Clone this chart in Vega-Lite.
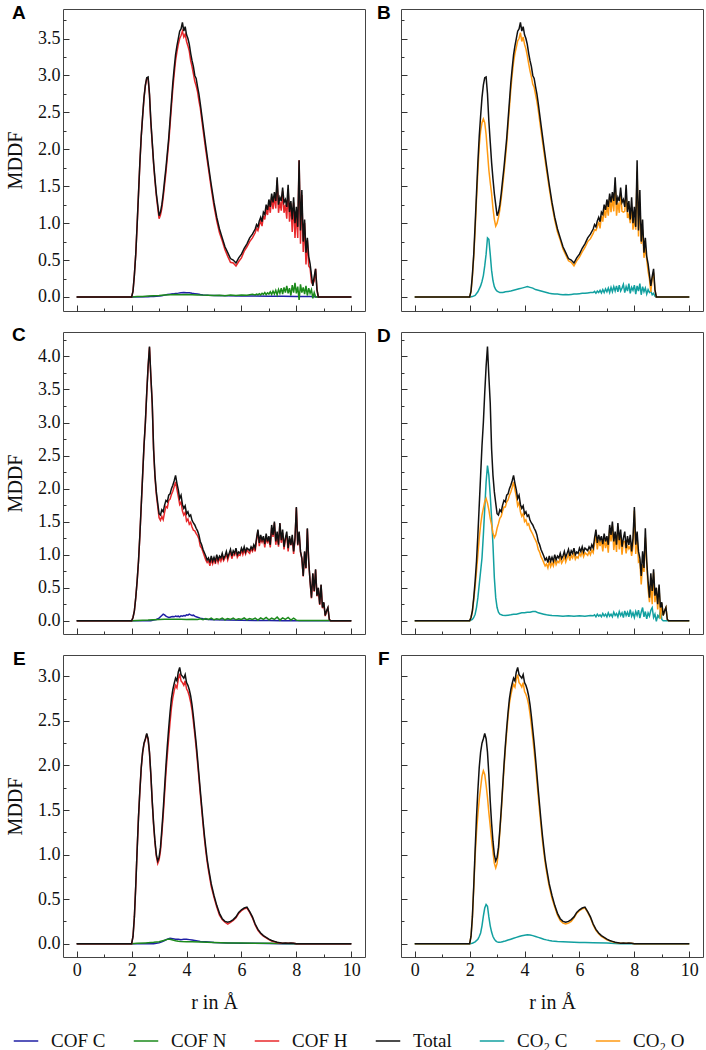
{
  "$schema": "https://vega.github.io/schema/vega-lite/v6.json",
  "padding": {"left": 5, "top": 3, "right": 0, "bottom": 0},
  "bounds": "flush",
  "columns": 2,
  "spacing": {"row": 21, "column": 36},
  "resolve": {"scale": {"color": "shared"}},
  "config": {
    "view": {"stroke": "#444", "strokeWidth": 1},
    "font": "Liberation Serif",
    "axis": {"domain": false, "grid": false, "tickColor": "#333", "tickWidth": 1, "labelFont": "Liberation Serif", "labelFontSize": 18, "labelColor": "#111", "titleFont": "Liberation Serif", "titleFontSize": 20, "titleFontWeight": "normal", "titleColor": "#111", "labelFlush": false, "labelOverlap": false},
    "title": {"font": "Liberation Sans", "fontSize": 19, "fontWeight": "bold", "anchor": "start", "frame": "group", "offset": -14, "baseline": "alphabetic", "color": "#000"},
    "legend": {"orient": "none", "legendX": -50, "legendY": 1019, "direction": "horizontal", "gridAlign": "none", "symbolType": "stroke", "symbolStrokeWidth": 2, "symbolSize": 600, "labelFont": "Liberation Serif", "labelFontSize": 19, "labelColor": "#111", "columnPadding": 24, "labelOffset": 12, "padding": 0},
    "line": {"strokeWidth": 1.5}
  },
  "datasets": {
    "s1": [
      {"r":0,"T":0,"H":0,"C":0,"N":0,"K":0,"O":0},
      {"r":2.0,"T":0,"H":0,"C":0,"N":0,"K":0,"O":0},
      {"r":2.05,"T":0.08,"H":0.08,"O":0.07},
      {"r":2.1,"T":0.3,"H":0.3,"K":0.005,"O":0.27},
      {"r":2.15,"T":0.58,"H":0.58,"O":0.55},
      {"r":2.2,"T":0.98,"H":0.97,"N":0.005,"K":0.02,"O":0.9},
      {"r":2.25,"T":1.4,"H":1.39,"O":1.32},
      {"r":2.3,"T":1.82,"H":1.81,"K":0.07,"O":1.7},
      {"r":2.35,"T":2.18,"H":2.17,"O":2.05},
      {"r":2.4,"T":2.45,"H":2.44,"N":0.008,"K":0.15,"O":2.25},
      {"r":2.45,"T":2.7,"H":2.69,"K":0.21,"O":2.36},
      {"r":2.5,"T":2.87,"H":2.86,"K":0.29,"O":2.41},
      {"r":2.55,"T":2.97,"H":2.96,"K":0.42,"O":2.36},
      {"r":2.6,"T":2.98,"H":2.96,"C":0.003,"N":0.012,"K":0.58,"O":2.2},
      {"r":2.65,"T":2.75,"H":2.73,"K":0.8,"O":1.96},
      {"r":2.7,"T":2.38,"H":2.36,"C":0.005,"K":0.78,"O":1.72},
      {"r":2.75,"T":2.1,"H":2.08,"K":0.58,"O":1.55},
      {"r":2.8,"T":1.82,"H":1.8,"C":0.007,"N":0.016,"K":0.36,"O":1.4},
      {"r":2.85,"T":1.6,"H":1.57,"K":0.22,"O":1.2},
      {"r":2.9,"T":1.4,"H":1.37,"C":0.01,"K":0.14,"O":1.05},
      {"r":2.95,"T":1.25,"H":1.21,"K":0.1,"O":0.96},
      {"r":3.0,"T":1.1,"H":1.06,"C":0.012,"N":0.02,"K":0.08,"O":1.0},
      {"r":3.05,"T":1.15,"H":1.11,"K":0.07,"O":1.08},
      {"r":3.1,"T":1.25,"H":1.2,"C":0.018,"K":0.06,"O":1.18},
      {"r":3.15,"T":1.4,"H":1.35,"K":0.06,"O":1.33},
      {"r":3.2,"T":1.58,"H":1.52,"C":0.025,"N":0.026,"K":0.06,"O":1.5},
      {"r":3.25,"T":1.75,"H":1.69,"K":0.065,"O":1.68},
      {"r":3.3,"T":1.95,"H":1.89,"C":0.032,"K":0.07,"O":1.87},
      {"r":3.35,"T":2.15,"H":2.09,"O":2.07},
      {"r":3.4,"T":2.4,"H":2.33,"C":0.038,"N":0.03,"K":0.075,"O":2.32},
      {"r":3.45,"T":2.65,"H":2.58,"O":2.57},
      {"r":3.5,"T":2.9,"H":2.82,"C":0.042,"K":0.08,"O":2.81},
      {"r":3.55,"T":3.1,"H":3.02,"O":3.01},
      {"r":3.6,"T":3.28,"H":3.2,"C":0.048,"N":0.032,"K":0.09,"O":3.18},
      {"r":3.65,"T":3.4,"H":3.32,"O":3.3},
      {"r":3.7,"T":3.5,"H":3.42,"C":0.052,"K":0.1,"O":3.38},
      {"r":3.75,"T":3.6,"H":3.5,"O":3.47},
      {"r":3.8,"T":3.63,"H":3.54,"C":0.058,"N":0.03,"K":0.11,"O":3.5},
      {"r":3.85,"T":3.72,"H":3.6,"O":3.58},
      {"r":3.9,"T":3.6,"H":3.52,"C":0.06,"K":0.12,"O":3.46},
      {"r":3.95,"T":3.66,"H":3.56,"O":3.52},
      {"r":4.0,"T":3.55,"H":3.46,"C":0.056,"N":0.033,"K":0.13,"O":3.42},
      {"r":4.05,"T":3.5,"H":3.4,"O":3.36},
      {"r":4.1,"T":3.42,"H":3.33,"C":0.058,"K":0.14,"O":3.27},
      {"r":4.15,"T":3.3,"H":3.2,"O":3.16},
      {"r":4.2,"T":3.2,"H":3.12,"C":0.05,"N":0.03,"K":0.13,"O":3.06},
      {"r":4.25,"T":3.12,"H":3.02,"O":2.98},
      {"r":4.3,"T":3.0,"H":2.92,"C":0.045,"K":0.12,"O":2.88},
      {"r":4.35,"T":2.96,"H":2.86,"O":2.84},
      {"r":4.4,"T":2.85,"H":2.78,"C":0.04,"N":0.028,"K":0.1,"O":2.74},
      {"r":4.45,"T":2.75,"H":2.66,"O":2.65},
      {"r":4.5,"T":2.62,"H":2.56,"C":0.032,"K":0.09,"O":2.53},
      {"r":4.6,"T":2.33,"H":2.27,"C":0.028,"N":0.025,"K":0.08,"O":2.25},
      {"r":4.7,"T":2.05,"H":1.99,"C":0.025,"K":0.07,"O":1.98},
      {"r":4.8,"T":1.78,"H":1.73,"C":0.022,"N":0.022,"K":0.06,"O":1.72},
      {"r":4.9,"T":1.52,"H":1.47,"K":0.05,"O":1.47},
      {"r":5.0,"T":1.28,"H":1.23,"C":0.02,"N":0.02,"K":0.045,"O":1.24},
      {"r":5.1,"T":1.08,"H":1.03,"K":0.04,"O":1.04},
      {"r":5.2,"T":0.92,"H":0.87,"N":0.022,"K":0.04,"O":0.88},
      {"r":5.3,"T":0.8,"H":0.76,"K":0.035,"O":0.77},
      {"r":5.4,"T":0.68,"H":0.64,"N":0.018,"K":0.03,"O":0.65},
      {"r":5.5,"T":0.6,"H":0.55,"C":0.015,"K":0.035,"O":0.57},
      {"r":5.6,"T":0.52,"H":0.47,"N":0.025,"K":0.03,"O":0.49},
      {"r":5.7,"T":0.5,"H":0.46,"K":0.035,"O":0.47},
      {"r":5.8,"T":0.46,"H":0.42,"N":0.02,"K":0.04,"O":0.42},
      {"r":5.9,"T":0.53,"H":0.48,"K":0.04,"O":0.49},
      {"r":6.0,"T":0.58,"H":0.53,"C":0.013,"N":0.028,"K":0.045,"O":0.54},
      {"r":6.1,"T":0.66,"H":0.62,"K":0.05,"O":0.61},
      {"r":6.2,"T":0.72,"H":0.68,"N":0.022,"K":0.05,"O":0.67},
      {"r":6.3,"T":0.8,"H":0.75,"K":0.055,"O":0.75},
      {"r":6.4,"T":0.85,"H":0.8,"N":0.035,"K":0.06,"O":0.79},
      {"r":6.5,"T":0.92,"H":0.87,"C":0.012,"N":0.028,"K":0.06,"O":0.86},
      {"r":6.55,"T":0.98,"H":0.93,"N":0.04,"K":0.075,"O":0.91},
      {"r":6.6,"T":0.95,"H":0.9,"N":0.03,"K":0.05,"O":0.9},
      {"r":6.65,"T":1.03,"H":0.97,"N":0.045,"K":0.08,"O":0.95},
      {"r":6.7,"T":1.08,"H":1.03,"N":0.028,"K":0.06,"O":1.02},
      {"r":6.75,"T":1.02,"H":0.96,"N":0.05,"K":0.09,"O":0.93},
      {"r":6.8,"T":1.15,"H":1.1,"N":0.035,"K":0.055,"O":1.1},
      {"r":6.85,"T":1.12,"H":1.05,"N":0.06,"K":0.1,"O":1.02},
      {"r":6.9,"T":1.25,"H":1.2,"N":0.03,"K":0.06,"O":1.19},
      {"r":6.95,"T":1.18,"H":1.11,"N":0.055,"K":0.11,"O":1.07},
      {"r":7.0,"T":1.32,"H":1.26,"C":0.01,"N":0.04,"K":0.07,"O":1.25},
      {"r":7.05,"T":1.22,"H":1.14,"N":0.07,"K":0.12,"O":1.1},
      {"r":7.1,"T":1.4,"H":1.35,"N":0.035,"K":0.06,"O":1.34},
      {"r":7.15,"T":1.28,"H":1.19,"N":0.08,"K":0.13,"O":1.15},
      {"r":7.2,"T":1.42,"H":1.37,"N":0.04,"K":0.07,"O":1.35},
      {"r":7.25,"T":1.3,"H":1.2,"N":0.09,"K":0.14,"O":1.16},
      {"r":7.3,"T":1.62,"H":1.58,"N":0.03,"K":0.08,"O":1.54},
      {"r":7.35,"T":1.25,"H":1.14,"N":0.1,"K":0.15,"O":1.1},
      {"r":7.4,"T":1.35,"H":1.29,"N":0.05,"K":0.07,"O":1.28},
      {"r":7.45,"T":1.3,"H":1.17,"N":0.12,"K":0.16,"O":1.14},
      {"r":7.5,"T":1.48,"H":1.43,"C":0.01,"N":0.04,"K":0.08,"O":1.4},
      {"r":7.55,"T":1.28,"H":1.14,"N":0.13,"K":0.12,"O":1.16},
      {"r":7.6,"T":1.32,"H":1.25,"N":0.06,"K":0.17,"O":1.15},
      {"r":7.65,"T":1.22,"H":1.06,"N":0.15,"K":0.06,"O":1.16},
      {"r":7.7,"T":1.52,"H":1.46,"N":0.05,"K":0.14,"O":1.38},
      {"r":7.75,"T":1.15,"H":1.02,"N":0.12,"K":0.08,"O":1.07},
      {"r":7.8,"T":1.3,"H":1.27,"N":0.02,"K":0.18,"O":1.12},
      {"r":7.85,"T":1.05,"H":0.88,"N":0.16,"K":0.05,"O":1.0},
      {"r":7.9,"T":1.35,"H":1.28,"N":0.06,"K":0.13,"O":1.22},
      {"r":7.95,"T":1.0,"H":0.8,"N":0.19,"K":0.09,"O":0.91},
      {"r":8.0,"T":1.22,"H":1.16,"C":0.008,"N":0.05,"K":0.16,"O":1.06},
      {"r":8.05,"T":0.95,"H":0.8,"N":0.14,"K":0.04,"O":0.91},
      {"r":8.1,"T":1.85,"H":1.85,"N":-0.04,"K":0.15,"O":1.7},
      {"r":8.15,"T":0.9,"H":0.72,"N":0.17,"K":0.08,"O":0.82},
      {"r":8.2,"T":1.45,"H":1.38,"N":0.06,"K":0.18,"O":1.27},
      {"r":8.25,"T":0.75,"H":0.61,"N":0.13,"K":0.03,"O":0.72},
      {"r":8.3,"T":1.05,"H":1.0,"N":0.04,"K":0.14,"O":0.91},
      {"r":8.35,"T":0.6,"H":0.44,"N":0.15,"K":0.07,"O":0.53},
      {"r":8.4,"T":0.8,"H":0.77,"N":0.02,"K":0.12,"O":0.68},
      {"r":8.45,"T":0.55,"H":0.42,"N":0.12,"K":0.04,"O":0.51},
      {"r":8.5,"T":0.45,"H":0.39,"C":0.006,"N":0.05,"K":0.1,"O":0.35},
      {"r":8.55,"T":0.3,"H":0.2,"N":0.1,"K":0.06,"O":0.24},
      {"r":8.6,"T":0.15,"H":0.17,"N":-0.02,"K":0.08,"O":0.07},
      {"r":8.65,"T":0.28,"H":0.22,"N":0.06,"K":0.03,"O":0.25},
      {"r":8.7,"T":0.38,"H":0.38,"N":0,"K":0.05,"O":0.33},
      {"r":8.75,"T":0.1,"H":0.1,"K":0.01,"O":0.09},
      {"r":8.8,"T":0,"H":0,"C":0,"K":0,"O":0},
      {"r":10,"T":0,"H":0,"C":0,"N":0,"K":0,"O":0}
    ],
    "s2": [
      {"r":0,"T":0,"H":0,"C":0,"N":0,"K":0,"O":0},
      {"r":2.0,"T":0,"H":0,"C":0,"N":0,"K":0,"O":0},
      {"r":2.05,"T":0.05,"H":0.05,"O":0.05},
      {"r":2.1,"T":0.15,"H":0.15,"O":0.14,"K":0.02},
      {"r":2.15,"T":0.35,"H":0.35,"O":0.32,"K":0.05},
      {"r":2.2,"T":0.6,"H":0.6,"O":0.52,"K":0.1,"N":0.004},
      {"r":2.25,"T":0.9,"H":0.9,"O":0.75,"K":0.2},
      {"r":2.3,"T":1.3,"H":1.29,"O":1.0,"K":0.35},
      {"r":2.35,"T":1.75,"H":1.74,"O":1.25,"K":0.55},
      {"r":2.4,"T":2.2,"H":2.19,"O":1.45,"K":0.75,"N":0.007},
      {"r":2.45,"T":2.65,"H":2.64,"O":1.6,"K":0.95},
      {"r":2.5,"T":3.0,"H":2.99,"O":1.7,"K":1.3},
      {"r":2.55,"T":3.45,"H":3.44,"O":1.8,"K":1.7},
      {"r":2.6,"T":3.85,"H":3.84,"O":1.85,"K":2.1,"N":0.01},
      {"r":2.65,"T":4.15,"H":4.14,"O":1.78,"K":2.35},
      {"r":2.7,"T":3.7,"H":3.69,"O":1.68,"K":2.2,"C":0},
      {"r":2.75,"T":3.3,"H":3.28,"O":1.55,"K":1.9},
      {"r":2.8,"T":2.6,"H":2.58,"O":1.45,"K":1.55,"C":0.01,"N":0.015},
      {"r":2.85,"T":2.2,"H":2.17,"O":1.33,"K":1.15},
      {"r":2.9,"T":1.95,"H":1.91,"O":1.26,"K":0.65,"C":0.02},
      {"r":2.95,"T":1.78,"H":1.73,"O":1.3,"K":0.35},
      {"r":3.0,"T":1.62,"H":1.56,"O":1.4,"K":0.2,"C":0.04,"N":0.02},
      {"r":3.05,"T":1.6,"H":1.52,"O":1.47,"K":0.13,"C":0.06},
      {"r":3.1,"T":1.68,"H":1.58,"O":1.55,"K":0.1,"C":0.08},
      {"r":3.15,"T":1.65,"H":1.53,"O":1.58,"C":0.1},
      {"r":3.2,"T":1.75,"H":1.64,"O":1.66,"K":0.085,"C":0.09,"N":0.022},
      {"r":3.25,"T":1.82,"H":1.73,"O":1.72,"C":0.07},
      {"r":3.3,"T":1.8,"H":1.71,"O":1.72,"K":0.08,"C":0.06},
      {"r":3.35,"T":1.9,"H":1.82,"O":1.8,"C":0.05},
      {"r":3.4,"T":1.92,"H":1.84,"O":1.83,"K":0.085,"C":0.055,"N":0.025},
      {"r":3.45,"T":2.0,"H":1.91,"O":1.9,"C":0.06},
      {"r":3.5,"T":2.05,"H":1.96,"O":1.95,"K":0.09,"C":0.065},
      {"r":3.55,"T":2.12,"H":2.03,"O":2.02,"C":0.06},
      {"r":3.6,"T":2.2,"H":2.1,"O":2.1,"K":0.1,"C":0.07,"N":0.022},
      {"r":3.65,"T":2.08,"H":1.99,"O":1.98,"C":0.065},
      {"r":3.7,"T":1.98,"H":1.88,"O":1.88,"K":0.1,"C":0.07},
      {"r":3.75,"T":1.85,"H":1.76,"O":1.74,"C":0.06},
      {"r":3.8,"T":1.9,"H":1.8,"O":1.79,"K":0.11,"C":0.075,"N":0.025},
      {"r":3.85,"T":1.76,"H":1.66,"O":1.65,"C":0.07},
      {"r":3.9,"T":1.7,"H":1.6,"O":1.58,"K":0.12,"C":0.08},
      {"r":3.95,"T":1.74,"H":1.64,"O":1.62,"C":0.075},
      {"r":4.0,"T":1.62,"H":1.51,"O":1.5,"K":0.12,"C":0.09,"N":0.02},
      {"r":4.05,"T":1.65,"H":1.54,"O":1.53,"C":0.085},
      {"r":4.1,"T":1.58,"H":1.46,"O":1.45,"K":0.13,"C":0.1},
      {"r":4.15,"T":1.6,"H":1.49,"O":1.47,"C":0.09},
      {"r":4.2,"T":1.52,"H":1.42,"O":1.39,"K":0.13,"C":0.08,"N":0.025},
      {"r":4.25,"T":1.48,"H":1.37,"O":1.35,"C":0.085},
      {"r":4.3,"T":1.45,"H":1.36,"O":1.31,"K":0.14,"C":0.07},
      {"r":4.35,"T":1.4,"H":1.32,"O":1.26,"C":0.06},
      {"r":4.4,"T":1.36,"H":1.29,"O":1.22,"K":0.14,"C":0.055,"N":0.018},
      {"r":4.45,"T":1.3,"H":1.24,"O":1.17},
      {"r":4.5,"T":1.2,"H":1.13,"O":1.08,"K":0.12,"C":0.04,"N":0.03},
      {"r":4.55,"T":1.15,"H":1.1,"O":1.04},
      {"r":4.6,"T":1.08,"H":1.04,"O":0.97,"K":0.11,"C":0.03,"N":0.015},
      {"r":4.65,"T":1.03,"H":0.98,"O":0.93},
      {"r":4.7,"T":0.98,"H":0.92,"O":0.88,"K":0.1,"C":0.025,"N":0.035},
      {"r":4.75,"T":0.92,"H":0.88,"O":0.83},
      {"r":4.8,"T":0.95,"H":0.91,"O":0.86,"K":0.09,"C":0.02,"N":0.02},
      {"r":4.85,"T":0.88,"H":0.83,"O":0.8},
      {"r":4.9,"T":0.98,"H":0.93,"O":0.9,"K":0.085,"N":0.04},
      {"r":4.95,"T":0.9,"H":0.86,"O":0.82},
      {"r":5.0,"T":0.96,"H":0.93,"O":0.88,"K":0.08,"C":0.015,"N":0.015},
      {"r":5.05,"T":0.9,"H":0.86,"O":0.83},
      {"r":5.1,"T":1.0,"H":0.96,"O":0.93,"N":0.03},
      {"r":5.15,"T":0.92,"H":0.88,"O":0.85},
      {"r":5.2,"T":0.98,"H":0.95,"O":0.9,"K":0.075,"N":0.02},
      {"r":5.25,"T":0.95,"H":0.9,"O":0.88},
      {"r":5.3,"T":1.02,"H":0.97,"O":0.95,"N":0.04},
      {"r":5.35,"T":0.94,"H":0.91,"O":0.87},
      {"r":5.4,"T":0.98,"H":0.95,"O":0.91,"K":0.07,"N":0.015},
      {"r":5.45,"T":1.05,"H":1.01,"O":0.98},
      {"r":5.5,"T":0.96,"H":0.92,"O":0.89,"C":0.01,"N":0.035},
      {"r":5.55,"T":1.02,"H":0.99,"O":0.95},
      {"r":5.6,"T":1.08,"H":1.05,"O":1.0,"K":0.075,"N":0.02},
      {"r":5.65,"T":0.98,"H":0.94,"O":0.91},
      {"r":5.7,"T":1.06,"H":1.01,"O":0.99,"N":0.04},
      {"r":5.75,"T":1.02,"H":0.99,"O":0.95},
      {"r":5.8,"T":1.1,"H":1.07,"O":1.03,"K":0.07,"N":0.015},
      {"r":5.85,"T":1.0,"H":0.96,"O":0.93},
      {"r":5.9,"T":1.04,"H":1.0,"O":0.97,"N":0.03},
      {"r":5.95,"T":1.02,"H":0.99,"O":0.95},
      {"r":6.0,"T":1.1,"H":1.07,"O":1.02,"K":0.075,"C":0.008,"N":0.02},
      {"r":6.05,"T":1.05,"H":1.0,"O":0.98},
      {"r":6.1,"T":1.12,"H":1.07,"O":1.05,"N":0.045},
      {"r":6.15,"T":1.04,"H":1.01,"O":0.97},
      {"r":6.2,"T":1.1,"H":1.08,"O":1.03,"K":0.07,"N":0.015},
      {"r":6.25,"T":1.08,"H":1.04,"O":1.01},
      {"r":6.3,"T":1.06,"H":1.02,"O":0.99,"N":0.035},
      {"r":6.35,"T":1.12,"H":1.09,"O":1.05},
      {"r":6.4,"T":1.08,"H":1.05,"O":1.0,"K":0.08,"N":0.02},
      {"r":6.45,"T":1.15,"H":1.11,"O":1.07},
      {"r":6.5,"T":1.1,"H":1.05,"O":1.03,"K":0.075,"C":0.006,"N":0.04},
      {"r":6.55,"T":1.25,"H":1.22,"O":1.16,"K":0.09},
      {"r":6.6,"T":1.38,"H":1.36,"O":1.32,"K":0.06,"N":0.01},
      {"r":6.65,"T":1.18,"H":1.13,"O":1.08,"K":0.1},
      {"r":6.7,"T":1.3,"H":1.25,"O":1.23,"K":0.07,"N":0.045},
      {"r":6.75,"T":1.22,"H":1.19,"O":1.13,"K":0.09},
      {"r":6.8,"T":1.28,"H":1.25,"O":1.22,"K":0.06,"N":0.02},
      {"r":6.85,"T":1.16,"H":1.11,"O":1.05,"K":0.11},
      {"r":6.9,"T":1.32,"H":1.27,"O":1.25,"K":0.07,"N":0.05},
      {"r":6.95,"T":1.2,"H":1.17,"O":1.1,"K":0.1},
      {"r":7.0,"T":1.28,"H":1.26,"O":1.22,"K":0.06,"C":0.004,"N":0.015},
      {"r":7.05,"T":1.15,"H":1.11,"O":1.03,"K":0.12},
      {"r":7.1,"T":1.45,"H":1.41,"O":1.38,"K":0.07,"N":0.04},
      {"r":7.15,"T":1.3,"H":1.27,"O":1.2,"K":0.1},
      {"r":7.2,"T":1.5,"H":1.48,"O":1.44,"K":0.06,"N":0.02},
      {"r":7.25,"T":1.2,"H":1.15,"O":1.07,"K":0.13},
      {"r":7.3,"T":1.35,"H":1.29,"O":1.27,"K":0.08,"N":0.055},
      {"r":7.35,"T":1.15,"H":1.12,"O":1.04,"K":0.11},
      {"r":7.4,"T":1.48,"H":1.47,"O":1.42,"K":0.06,"N":0.01},
      {"r":7.45,"T":1.22,"H":1.18,"O":1.08,"K":0.14},
      {"r":7.5,"T":1.38,"H":1.33,"O":1.3,"K":0.08,"C":0.002,"N":0.045},
      {"r":7.55,"T":1.12,"H":1.08,"O":1.0,"K":0.12},
      {"r":7.6,"T":1.25,"H":1.23,"O":1.2,"K":0.05,"N":0.02},
      {"r":7.65,"T":1.35,"H":1.3,"O":1.2,"K":0.15},
      {"r":7.7,"T":1.1,"H":1.05,"O":1.02,"K":0.08,"N":0.05},
      {"r":7.75,"T":1.28,"H":1.25,"O":1.15,"K":0.13},
      {"r":7.8,"T":1.15,"H":1.14,"O":1.09,"K":0.06,"N":0.01},
      {"r":7.85,"T":1.3,"H":1.26,"O":1.13,"K":0.17},
      {"r":7.9,"T":1.05,"H":1.01,"O":0.98,"K":0.07,"N":0.04},
      {"r":7.95,"T":1.25,"H":1.22,"O":1.13,"K":0.12},
      {"r":8.0,"T":1.72,"H":1.71,"O":1.67,"K":0.05,"C":0,"N":0.01},
      {"r":8.05,"T":1.15,"H":1.14,"O":1.01,"K":0.14},
      {"r":8.1,"T":1.35,"H":1.34,"O":1.27,"K":0.08,"N":0.005},
      {"r":8.15,"T":1.05,"H":1.04,"O":0.89,"K":0.16},
      {"r":8.2,"T":0.95,"H":0.94,"O":0.91,"K":0.04},
      {"r":8.25,"T":0.68,"H":0.67,"O":0.55,"K":0.13},
      {"r":8.3,"T":1.05,"H":1.04,"O":0.85,"K":0.2},
      {"r":8.35,"T":0.8,"H":0.79,"O":0.74,"K":0.06},
      {"r":8.4,"T":1.4,"H":1.39,"O":1.26,"K":0.14},
      {"r":8.45,"T":0.9,"H":0.89,"O":0.87,"K":0.03},
      {"r":8.5,"T":0.6,"H":0.59,"O":0.48,"K":0.12},
      {"r":8.55,"T":0.35,"H":0.34,"O":0.28,"K":0.07},
      {"r":8.6,"T":0.72,"H":0.71,"O":0.56,"K":0.16},
      {"r":8.65,"T":0.45,"H":0.44,"O":0.25,"K":0.2},
      {"r":8.7,"T":0.78,"H":0.77,"O":0.73,"K":0.05},
      {"r":8.75,"T":0.38,"H":0.37,"O":0.28,"K":0.1},
      {"r":8.8,"T":0.5,"H":0.49,"O":0.5,"K":-0.01},
      {"r":8.85,"T":0.25,"H":0.24,"O":0.17,"K":0.08},
      {"r":8.9,"T":0.55,"H":0.54,"O":0.5,"K":0.05},
      {"r":8.95,"T":0.2,"H":0.19,"O":0.03,"K":0.17},
      {"r":9.0,"T":0.28,"H":0.27,"O":0.26,"K":0.02},
      {"r":9.05,"T":0.08,"H":0.07,"O":0.08,"K":0},
      {"r":9.1,"T":0.15,"H":0.14,"O":0.15},
      {"r":9.15,"T":0.2,"H":0.19,"O":0.2},
      {"r":9.2,"T":0.02,"H":0.02,"O":0.02,"N":0.003},
      {"r":9.25,"T":0,"H":0,"O":0,"N":0},
      {"r":10,"T":0,"H":0,"C":0,"N":0,"K":0,"O":0}
    ],
    "s3": [
      {"r":0,"T":0,"H":0,"C":0,"N":0,"K":0,"O":0},
      {"r":2.0,"T":0,"H":0,"C":0,"N":0,"K":0,"O":0},
      {"r":2.05,"T":0.08,"H":0.08,"O":0.08},
      {"r":2.1,"T":0.3,"H":0.3,"K":0.005,"O":0.29},
      {"r":2.15,"T":0.65,"H":0.65,"O":0.63},
      {"r":2.2,"T":1.05,"H":1.05,"N":0.003,"K":0.02,"O":0.98},
      {"r":2.25,"T":1.42,"H":1.42,"O":1.25},
      {"r":2.3,"T":1.72,"H":1.71,"K":0.05,"O":1.45},
      {"r":2.35,"T":1.98,"H":1.97,"K":0.08,"O":1.62},
      {"r":2.4,"T":2.15,"H":2.14,"K":0.12,"O":1.75},
      {"r":2.45,"T":2.25,"H":2.24,"K":0.2,"O":1.88},
      {"r":2.5,"T":2.3,"H":2.29,"N":0.008,"K":0.31,"O":1.94},
      {"r":2.55,"T":2.36,"H":2.35,"K":0.4,"O":1.9},
      {"r":2.6,"T":2.3,"H":2.29,"K":0.44,"O":1.78},
      {"r":2.65,"T":2.15,"H":2.14,"K":0.42,"O":1.64},
      {"r":2.7,"T":1.9,"H":1.89,"K":0.3,"O":1.47},
      {"r":2.75,"T":1.6,"H":1.59,"K":0.2,"O":1.32},
      {"r":2.8,"T":1.35,"H":1.33,"C":0,"N":0.015,"K":0.13,"O":1.17},
      {"r":2.85,"T":1.15,"H":1.13,"K":0.08,"O":1.03},
      {"r":2.9,"T":1.0,"H":0.98,"C":0.005,"K":0.05,"O":0.9},
      {"r":2.95,"T":0.93,"H":0.9,"K":0.03,"O":0.85},
      {"r":3.0,"T":0.97,"H":0.94,"C":0.01,"N":0.022,"K":0.02,"O":0.9},
      {"r":3.05,"T":1.08,"H":1.04,"K":0.016,"O":1.04},
      {"r":3.1,"T":1.28,"H":1.23,"C":0.02,"N":0.03,"K":0.015,"O":1.25},
      {"r":3.15,"T":1.5,"H":1.44,"K":0.018,"O":1.47},
      {"r":3.2,"T":1.75,"H":1.68,"C":0.035,"N":0.038,"K":0.022,"O":1.72},
      {"r":3.25,"T":2.0,"H":1.92,"K":0.026,"O":1.96},
      {"r":3.3,"T":2.22,"H":2.12,"C":0.05,"N":0.048,"K":0.03,"O":2.18},
      {"r":3.35,"T":2.42,"H":2.31,"N":0.052,"O":2.37},
      {"r":3.4,"T":2.6,"H":2.49,"C":0.06,"N":0.05,"K":0.04,"O":2.55},
      {"r":3.45,"T":2.75,"H":2.65,"O":2.7},
      {"r":3.5,"T":2.85,"H":2.76,"C":0.055,"N":0.04,"K":0.05,"O":2.79},
      {"r":3.55,"T":2.92,"H":2.84,"O":2.86},
      {"r":3.6,"T":2.98,"H":2.9,"C":0.05,"N":0.032,"K":0.06,"O":2.91},
      {"r":3.65,"T":2.95,"H":2.87,"O":2.88},
      {"r":3.7,"T":3.05,"H":2.97,"C":0.05,"N":0.028,"K":0.07,"O":2.97},
      {"r":3.75,"T":3.1,"H":3.03,"O":3.02},
      {"r":3.8,"T":3.02,"H":2.95,"C":0.045,"N":0.025,"K":0.08,"O":2.93},
      {"r":3.85,"T":3.0,"H":2.93,"O":2.91},
      {"r":3.9,"T":2.98,"H":2.9,"C":0.05,"K":0.088,"O":2.88},
      {"r":3.95,"T":3.02,"H":2.95,"O":2.93},
      {"r":4.0,"T":2.93,"H":2.86,"C":0.05,"N":0.022,"K":0.095,"O":2.83},
      {"r":4.05,"T":2.9,"H":2.83,"O":2.8},
      {"r":4.1,"T":2.85,"H":2.78,"C":0.045,"K":0.1,"O":2.75},
      {"r":4.15,"T":2.78,"H":2.71,"O":2.68},
      {"r":4.2,"T":2.68,"H":2.62,"C":0.04,"N":0.02,"K":0.098,"O":2.58},
      {"r":4.25,"T":2.55,"H":2.49,"O":2.45},
      {"r":4.3,"T":2.4,"H":2.35,"C":0.035,"K":0.09,"O":2.31},
      {"r":4.35,"T":2.25,"H":2.2,"O":2.16},
      {"r":4.4,"T":2.08,"H":2.03,"C":0.03,"K":0.08,"O":2.0},
      {"r":4.45,"T":1.9,"H":1.86,"O":1.82},
      {"r":4.5,"T":1.72,"H":1.68,"C":0.025,"N":0.017,"K":0.07,"O":1.65},
      {"r":4.55,"T":1.55,"H":1.51,"O":1.48},
      {"r":4.6,"T":1.38,"H":1.34,"K":0.06,"O":1.32},
      {"r":4.65,"T":1.22,"H":1.18,"O":1.16},
      {"r":4.7,"T":1.08,"H":1.04,"C":0.02,"K":0.05,"O":1.03},
      {"r":4.75,"T":0.95,"H":0.92,"O":0.91},
      {"r":4.8,"T":0.85,"H":0.82,"K":0.042,"O":0.81},
      {"r":4.85,"T":0.76,"H":0.73,"O":0.72},
      {"r":4.9,"T":0.67,"H":0.64,"K":0.035,"O":0.64},
      {"r":5.0,"T":0.54,"H":0.52,"C":0.012,"N":0.012,"K":0.03,"O":0.51},
      {"r":5.1,"T":0.43,"H":0.41,"O":0.41},
      {"r":5.2,"T":0.34,"H":0.32,"K":0.024,"O":0.32},
      {"r":5.3,"T":0.28,"H":0.27,"O":0.26},
      {"r":5.4,"T":0.25,"H":0.24,"K":0.02,"O":0.23},
      {"r":5.5,"T":0.24,"H":0.22,"C":0.008,"N":0.008,"O":0.22},
      {"r":5.6,"T":0.25,"H":0.24,"K":0.017,"O":0.23},
      {"r":5.7,"T":0.27,"H":0.26,"O":0.25},
      {"r":5.8,"T":0.3,"H":0.29,"K":0.015,"O":0.29},
      {"r":5.9,"T":0.35,"H":0.34,"O":0.34},
      {"r":6.0,"T":0.38,"H":0.37,"C":0.005,"N":0.006,"K":0.013,"O":0.37},
      {"r":6.1,"T":0.4,"H":0.39,"O":0.39},
      {"r":6.2,"T":0.41,"H":0.4,"K":0.012,"O":0.4},
      {"r":6.3,"T":0.36,"H":0.35,"O":0.35},
      {"r":6.4,"T":0.3,"H":0.29,"O":0.29},
      {"r":6.5,"T":0.22,"H":0.21,"N":0.004,"K":0.01,"O":0.21},
      {"r":6.6,"T":0.16,"H":0.15,"O":0.15},
      {"r":6.7,"T":0.12,"H":0.11,"O":0.11},
      {"r":6.8,"T":0.09,"H":0.085,"O":0.08},
      {"r":6.9,"T":0.07,"H":0.065,"O":0.063},
      {"r":7.0,"T":0.05,"H":0.045,"C":0.002,"N":0.003,"K":0.006,"O":0.044},
      {"r":7.1,"T":0.035,"H":0.03,"O":0.031},
      {"r":7.2,"T":0.025,"H":0.022,"O":0.022},
      {"r":7.3,"T":0.015,"H":0.013,"K":0.002,"O":0.013},
      {"r":7.4,"T":0.01,"H":0.008,"O":0.01},
      {"r":7.5,"T":0.005,"H":0.004,"C":0,"N":0.002,"K":0,"O":0.005},
      {"r":7.6,"T":0.006,"H":0.005,"O":0.005},
      {"r":7.7,"T":0.004,"H":0.004,"O":0.004},
      {"r":7.8,"T":0.006,"H":0.005,"O":0.005},
      {"r":7.9,"T":0.003,"H":0.003,"O":0.003},
      {"r":8.0,"T":0,"H":0,"N":0,"O":0},
      {"r":10,"T":0,"H":0,"C":0,"N":0,"K":0,"O":0}
    ]
  },
  "concat": [
    {
      "width": 302, "height": 302,
      "data": {"name": "s1"},
      "title": {"text": "A", "dx": -51},
      "encoding": {"x": {"field": "r", "type": "quantitative", "scale": {"domain": [-0.5, 10.5], "nice": false, "zero": false}, "axis": {"title": null, "labels": false, "values": [0,1,2,3,4,5,6,7,8,9,10], "tickSize": {"condition": {"test": "datum.value % 2 === 0", "value": -6}, "value": -3}}}},
      "layer": [
        {"transform": [{"filter": "isValid(datum.C)"}], "mark": "line", "encoding": {"y": {"field": "C", "type": "quantitative", "scale": {"domain": [-0.19, 3.9], "nice": false, "zero": false}, "axis": {"title": "MDDF", "values": [0,0.25,0.5,0.75,1,1.25,1.5,1.75,2,2.25,2.5,2.75,3,3.25,3.5,3.75], "format": ".1f", "labelExpr": "datum.value % 0.5 === 0 ? datum.label : ''", "tickSize": {"condition": {"test": "datum.value % 0.5 === 0", "value": -6}, "value": -3}, "labelPadding": 9, "titlePadding": 12}}, "color": {"datum": "COF C", "scale": {"domain": ["COF C","COF N","COF H","Total","CO₂ C","CO₂ O"], "range": ["#1f1fa5","#1b8a1b","#e8282b","#111111","#12a0a0","#ff9a12"]}, "legend": {"title": null}}}},
        {"transform": [{"filter": "isValid(datum.N)"}], "mark": "line", "encoding": {"y": {"field": "N", "type": "quantitative", "scale": {"domain": [-0.19, 3.9], "nice": false, "zero": false}, "axis": {"title": "MDDF", "values": [0,0.25,0.5,0.75,1,1.25,1.5,1.75,2,2.25,2.5,2.75,3,3.25,3.5,3.75], "format": ".1f", "labelExpr": "datum.value % 0.5 === 0 ? datum.label : ''", "tickSize": {"condition": {"test": "datum.value % 0.5 === 0", "value": -6}, "value": -3}, "labelPadding": 9, "titlePadding": 12}}, "color": {"datum": "COF N", "scale": {"domain": ["COF C","COF N","COF H","Total","CO₂ C","CO₂ O"], "range": ["#1f1fa5","#1b8a1b","#e8282b","#111111","#12a0a0","#ff9a12"]}, "legend": {"title": null}}}},
        {"transform": [{"filter": "isValid(datum.H)"}], "mark": "line", "encoding": {"y": {"field": "H", "type": "quantitative", "scale": {"domain": [-0.19, 3.9], "nice": false, "zero": false}, "axis": {"title": "MDDF", "values": [0,0.25,0.5,0.75,1,1.25,1.5,1.75,2,2.25,2.5,2.75,3,3.25,3.5,3.75], "format": ".1f", "labelExpr": "datum.value % 0.5 === 0 ? datum.label : ''", "tickSize": {"condition": {"test": "datum.value % 0.5 === 0", "value": -6}, "value": -3}, "labelPadding": 9, "titlePadding": 12}}, "color": {"datum": "COF H", "scale": {"domain": ["COF C","COF N","COF H","Total","CO₂ C","CO₂ O"], "range": ["#1f1fa5","#1b8a1b","#e8282b","#111111","#12a0a0","#ff9a12"]}, "legend": {"title": null}}}},
        {"transform": [{"filter": "isValid(datum.T)"}], "mark": "line", "encoding": {"y": {"field": "T", "type": "quantitative", "scale": {"domain": [-0.19, 3.9], "nice": false, "zero": false}, "axis": {"title": "MDDF", "values": [0,0.25,0.5,0.75,1,1.25,1.5,1.75,2,2.25,2.5,2.75,3,3.25,3.5,3.75], "format": ".1f", "labelExpr": "datum.value % 0.5 === 0 ? datum.label : ''", "tickSize": {"condition": {"test": "datum.value % 0.5 === 0", "value": -6}, "value": -3}, "labelPadding": 9, "titlePadding": 12}}, "color": {"datum": "Total", "scale": {"domain": ["COF C","COF N","COF H","Total","CO₂ C","CO₂ O"], "range": ["#1f1fa5","#1b8a1b","#e8282b","#111111","#12a0a0","#ff9a12"]}, "legend": {"title": null}}}}
      ]
    },
    {
      "width": 302, "height": 302,
      "data": {"name": "s1"},
      "title": {"text": "B", "dx": -24},
      "encoding": {"x": {"field": "r", "type": "quantitative", "scale": {"domain": [-0.5, 10.5], "nice": false, "zero": false}, "axis": {"title": null, "labels": false, "values": [0,1,2,3,4,5,6,7,8,9,10], "tickSize": {"condition": {"test": "datum.value % 2 === 0", "value": -6}, "value": -3}}}},
      "layer": [
        {"transform": [{"filter": "isValid(datum.K)"}], "mark": "line", "encoding": {"y": {"field": "K", "type": "quantitative", "scale": {"domain": [-0.19, 3.9], "nice": false, "zero": false}, "axis": {"title": null, "labels": false, "values": [0,0.25,0.5,0.75,1,1.25,1.5,1.75,2,2.25,2.5,2.75,3,3.25,3.5,3.75], "tickSize": {"condition": {"test": "datum.value % 0.5 === 0", "value": -6}, "value": -3}}}, "color": {"datum": "CO₂ C", "scale": {"domain": ["COF C","COF N","COF H","Total","CO₂ C","CO₂ O"], "range": ["#1f1fa5","#1b8a1b","#e8282b","#111111","#12a0a0","#ff9a12"]}, "legend": {"title": null}}}},
        {"transform": [{"filter": "isValid(datum.O)"}], "mark": "line", "encoding": {"y": {"field": "O", "type": "quantitative", "scale": {"domain": [-0.19, 3.9], "nice": false, "zero": false}, "axis": {"title": null, "labels": false, "values": [0,0.25,0.5,0.75,1,1.25,1.5,1.75,2,2.25,2.5,2.75,3,3.25,3.5,3.75], "tickSize": {"condition": {"test": "datum.value % 0.5 === 0", "value": -6}, "value": -3}}}, "color": {"datum": "CO₂ O", "scale": {"domain": ["COF C","COF N","COF H","Total","CO₂ C","CO₂ O"], "range": ["#1f1fa5","#1b8a1b","#e8282b","#111111","#12a0a0","#ff9a12"]}, "legend": {"title": null}}}},
        {"transform": [{"filter": "isValid(datum.T)"}], "mark": "line", "encoding": {"y": {"field": "T", "type": "quantitative", "scale": {"domain": [-0.19, 3.9], "nice": false, "zero": false}, "axis": {"title": null, "labels": false, "values": [0,0.25,0.5,0.75,1,1.25,1.5,1.75,2,2.25,2.5,2.75,3,3.25,3.5,3.75], "tickSize": {"condition": {"test": "datum.value % 0.5 === 0", "value": -6}, "value": -3}}}, "color": {"datum": "Total", "scale": {"domain": ["COF C","COF N","COF H","Total","CO₂ C","CO₂ O"], "range": ["#1f1fa5","#1b8a1b","#e8282b","#111111","#12a0a0","#ff9a12"]}, "legend": {"title": null}}}}
      ]
    },
    {
      "width": 302, "height": 302,
      "data": {"name": "s2"},
      "title": {"text": "C", "dx": -51},
      "encoding": {"x": {"field": "r", "type": "quantitative", "scale": {"domain": [-0.5, 10.5], "nice": false, "zero": false}, "axis": {"title": null, "labels": false, "values": [0,1,2,3,4,5,6,7,8,9,10], "tickSize": {"condition": {"test": "datum.value % 2 === 0", "value": -6}, "value": -3}}}},
      "layer": [
        {"transform": [{"filter": "isValid(datum.C)"}], "mark": "line", "encoding": {"y": {"field": "C", "type": "quantitative", "scale": {"domain": [-0.2, 4.37], "nice": false, "zero": false}, "axis": {"title": "MDDF", "values": [0,0.25,0.5,0.75,1,1.25,1.5,1.75,2,2.25,2.5,2.75,3,3.25,3.5,3.75,4,4.25], "format": ".1f", "labelExpr": "datum.value % 0.5 === 0 ? datum.label : ''", "tickSize": {"condition": {"test": "datum.value % 0.5 === 0", "value": -6}, "value": -3}, "labelPadding": 9, "titlePadding": 12}}, "color": {"datum": "COF C", "scale": {"domain": ["COF C","COF N","COF H","Total","CO₂ C","CO₂ O"], "range": ["#1f1fa5","#1b8a1b","#e8282b","#111111","#12a0a0","#ff9a12"]}, "legend": {"title": null}}}},
        {"transform": [{"filter": "isValid(datum.N)"}], "mark": "line", "encoding": {"y": {"field": "N", "type": "quantitative", "scale": {"domain": [-0.2, 4.37], "nice": false, "zero": false}, "axis": {"title": "MDDF", "values": [0,0.25,0.5,0.75,1,1.25,1.5,1.75,2,2.25,2.5,2.75,3,3.25,3.5,3.75,4,4.25], "format": ".1f", "labelExpr": "datum.value % 0.5 === 0 ? datum.label : ''", "tickSize": {"condition": {"test": "datum.value % 0.5 === 0", "value": -6}, "value": -3}, "labelPadding": 9, "titlePadding": 12}}, "color": {"datum": "COF N", "scale": {"domain": ["COF C","COF N","COF H","Total","CO₂ C","CO₂ O"], "range": ["#1f1fa5","#1b8a1b","#e8282b","#111111","#12a0a0","#ff9a12"]}, "legend": {"title": null}}}},
        {"transform": [{"filter": "isValid(datum.H)"}], "mark": "line", "encoding": {"y": {"field": "H", "type": "quantitative", "scale": {"domain": [-0.2, 4.37], "nice": false, "zero": false}, "axis": {"title": "MDDF", "values": [0,0.25,0.5,0.75,1,1.25,1.5,1.75,2,2.25,2.5,2.75,3,3.25,3.5,3.75,4,4.25], "format": ".1f", "labelExpr": "datum.value % 0.5 === 0 ? datum.label : ''", "tickSize": {"condition": {"test": "datum.value % 0.5 === 0", "value": -6}, "value": -3}, "labelPadding": 9, "titlePadding": 12}}, "color": {"datum": "COF H", "scale": {"domain": ["COF C","COF N","COF H","Total","CO₂ C","CO₂ O"], "range": ["#1f1fa5","#1b8a1b","#e8282b","#111111","#12a0a0","#ff9a12"]}, "legend": {"title": null}}}},
        {"transform": [{"filter": "isValid(datum.T)"}], "mark": "line", "encoding": {"y": {"field": "T", "type": "quantitative", "scale": {"domain": [-0.2, 4.37], "nice": false, "zero": false}, "axis": {"title": "MDDF", "values": [0,0.25,0.5,0.75,1,1.25,1.5,1.75,2,2.25,2.5,2.75,3,3.25,3.5,3.75,4,4.25], "format": ".1f", "labelExpr": "datum.value % 0.5 === 0 ? datum.label : ''", "tickSize": {"condition": {"test": "datum.value % 0.5 === 0", "value": -6}, "value": -3}, "labelPadding": 9, "titlePadding": 12}}, "color": {"datum": "Total", "scale": {"domain": ["COF C","COF N","COF H","Total","CO₂ C","CO₂ O"], "range": ["#1f1fa5","#1b8a1b","#e8282b","#111111","#12a0a0","#ff9a12"]}, "legend": {"title": null}}}}
      ]
    },
    {
      "width": 302, "height": 302,
      "data": {"name": "s2"},
      "title": {"text": "D", "dx": -24},
      "encoding": {"x": {"field": "r", "type": "quantitative", "scale": {"domain": [-0.5, 10.5], "nice": false, "zero": false}, "axis": {"title": null, "labels": false, "values": [0,1,2,3,4,5,6,7,8,9,10], "tickSize": {"condition": {"test": "datum.value % 2 === 0", "value": -6}, "value": -3}}}},
      "layer": [
        {"transform": [{"filter": "isValid(datum.K)"}], "mark": "line", "encoding": {"y": {"field": "K", "type": "quantitative", "scale": {"domain": [-0.2, 4.37], "nice": false, "zero": false}, "axis": {"title": null, "labels": false, "values": [0,0.25,0.5,0.75,1,1.25,1.5,1.75,2,2.25,2.5,2.75,3,3.25,3.5,3.75,4,4.25], "tickSize": {"condition": {"test": "datum.value % 0.5 === 0", "value": -6}, "value": -3}}}, "color": {"datum": "CO₂ C", "scale": {"domain": ["COF C","COF N","COF H","Total","CO₂ C","CO₂ O"], "range": ["#1f1fa5","#1b8a1b","#e8282b","#111111","#12a0a0","#ff9a12"]}, "legend": {"title": null}}}},
        {"transform": [{"filter": "isValid(datum.O)"}], "mark": "line", "encoding": {"y": {"field": "O", "type": "quantitative", "scale": {"domain": [-0.2, 4.37], "nice": false, "zero": false}, "axis": {"title": null, "labels": false, "values": [0,0.25,0.5,0.75,1,1.25,1.5,1.75,2,2.25,2.5,2.75,3,3.25,3.5,3.75,4,4.25], "tickSize": {"condition": {"test": "datum.value % 0.5 === 0", "value": -6}, "value": -3}}}, "color": {"datum": "CO₂ O", "scale": {"domain": ["COF C","COF N","COF H","Total","CO₂ C","CO₂ O"], "range": ["#1f1fa5","#1b8a1b","#e8282b","#111111","#12a0a0","#ff9a12"]}, "legend": {"title": null}}}},
        {"transform": [{"filter": "isValid(datum.T)"}], "mark": "line", "encoding": {"y": {"field": "T", "type": "quantitative", "scale": {"domain": [-0.2, 4.37], "nice": false, "zero": false}, "axis": {"title": null, "labels": false, "values": [0,0.25,0.5,0.75,1,1.25,1.5,1.75,2,2.25,2.5,2.75,3,3.25,3.5,3.75,4,4.25], "tickSize": {"condition": {"test": "datum.value % 0.5 === 0", "value": -6}, "value": -3}}}, "color": {"datum": "Total", "scale": {"domain": ["COF C","COF N","COF H","Total","CO₂ C","CO₂ O"], "range": ["#1f1fa5","#1b8a1b","#e8282b","#111111","#12a0a0","#ff9a12"]}, "legend": {"title": null}}}}
      ]
    },
    {
      "width": 302, "height": 302,
      "data": {"name": "s3"},
      "title": {"text": "E", "dx": -50},
      "encoding": {"x": {"field": "r", "type": "quantitative", "scale": {"domain": [-0.5, 10.5], "nice": false, "zero": false}, "axis": {"title": "r in Å", "values": [0,1,2,3,4,5,6,7,8,9,10], "format": "d", "labelExpr": "datum.value % 2 === 0 ? datum.label : ''", "tickSize": {"condition": {"test": "datum.value % 2 === 0", "value": -6}, "value": -3}, "labelPadding": 10, "titlePadding": 10}}},
      "layer": [
        {"transform": [{"filter": "isValid(datum.C)"}], "mark": "line", "encoding": {"y": {"field": "C", "type": "quantitative", "scale": {"domain": [-0.15, 3.24], "nice": false, "zero": false}, "axis": {"title": "MDDF", "values": [0,0.25,0.5,0.75,1,1.25,1.5,1.75,2,2.25,2.5,2.75,3], "format": ".1f", "labelExpr": "datum.value % 0.5 === 0 ? datum.label : ''", "tickSize": {"condition": {"test": "datum.value % 0.5 === 0", "value": -6}, "value": -3}, "labelPadding": 9, "titlePadding": 12}}, "color": {"datum": "COF C", "scale": {"domain": ["COF C","COF N","COF H","Total","CO₂ C","CO₂ O"], "range": ["#1f1fa5","#1b8a1b","#e8282b","#111111","#12a0a0","#ff9a12"]}, "legend": {"title": null}}}},
        {"transform": [{"filter": "isValid(datum.N)"}], "mark": "line", "encoding": {"y": {"field": "N", "type": "quantitative", "scale": {"domain": [-0.15, 3.24], "nice": false, "zero": false}, "axis": {"title": "MDDF", "values": [0,0.25,0.5,0.75,1,1.25,1.5,1.75,2,2.25,2.5,2.75,3], "format": ".1f", "labelExpr": "datum.value % 0.5 === 0 ? datum.label : ''", "tickSize": {"condition": {"test": "datum.value % 0.5 === 0", "value": -6}, "value": -3}, "labelPadding": 9, "titlePadding": 12}}, "color": {"datum": "COF N", "scale": {"domain": ["COF C","COF N","COF H","Total","CO₂ C","CO₂ O"], "range": ["#1f1fa5","#1b8a1b","#e8282b","#111111","#12a0a0","#ff9a12"]}, "legend": {"title": null}}}},
        {"transform": [{"filter": "isValid(datum.H)"}], "mark": "line", "encoding": {"y": {"field": "H", "type": "quantitative", "scale": {"domain": [-0.15, 3.24], "nice": false, "zero": false}, "axis": {"title": "MDDF", "values": [0,0.25,0.5,0.75,1,1.25,1.5,1.75,2,2.25,2.5,2.75,3], "format": ".1f", "labelExpr": "datum.value % 0.5 === 0 ? datum.label : ''", "tickSize": {"condition": {"test": "datum.value % 0.5 === 0", "value": -6}, "value": -3}, "labelPadding": 9, "titlePadding": 12}}, "color": {"datum": "COF H", "scale": {"domain": ["COF C","COF N","COF H","Total","CO₂ C","CO₂ O"], "range": ["#1f1fa5","#1b8a1b","#e8282b","#111111","#12a0a0","#ff9a12"]}, "legend": {"title": null}}}},
        {"transform": [{"filter": "isValid(datum.T)"}], "mark": "line", "encoding": {"y": {"field": "T", "type": "quantitative", "scale": {"domain": [-0.15, 3.24], "nice": false, "zero": false}, "axis": {"title": "MDDF", "values": [0,0.25,0.5,0.75,1,1.25,1.5,1.75,2,2.25,2.5,2.75,3], "format": ".1f", "labelExpr": "datum.value % 0.5 === 0 ? datum.label : ''", "tickSize": {"condition": {"test": "datum.value % 0.5 === 0", "value": -6}, "value": -3}, "labelPadding": 9, "titlePadding": 12}}, "color": {"datum": "Total", "scale": {"domain": ["COF C","COF N","COF H","Total","CO₂ C","CO₂ O"], "range": ["#1f1fa5","#1b8a1b","#e8282b","#111111","#12a0a0","#ff9a12"]}, "legend": {"title": null}}}}
      ]
    },
    {
      "width": 302, "height": 302,
      "data": {"name": "s3"},
      "title": {"text": "F", "dx": -23},
      "encoding": {"x": {"field": "r", "type": "quantitative", "scale": {"domain": [-0.5, 10.5], "nice": false, "zero": false}, "axis": {"title": "r in Å", "values": [0,1,2,3,4,5,6,7,8,9,10], "format": "d", "labelExpr": "datum.value % 2 === 0 ? datum.label : ''", "tickSize": {"condition": {"test": "datum.value % 2 === 0", "value": -6}, "value": -3}, "labelPadding": 10, "titlePadding": 10}}},
      "layer": [
        {"transform": [{"filter": "isValid(datum.K)"}], "mark": "line", "encoding": {"y": {"field": "K", "type": "quantitative", "scale": {"domain": [-0.15, 3.24], "nice": false, "zero": false}, "axis": {"title": null, "labels": false, "values": [0,0.25,0.5,0.75,1,1.25,1.5,1.75,2,2.25,2.5,2.75,3], "tickSize": {"condition": {"test": "datum.value % 0.5 === 0", "value": -6}, "value": -3}}}, "color": {"datum": "CO₂ C", "scale": {"domain": ["COF C","COF N","COF H","Total","CO₂ C","CO₂ O"], "range": ["#1f1fa5","#1b8a1b","#e8282b","#111111","#12a0a0","#ff9a12"]}, "legend": {"title": null}}}},
        {"transform": [{"filter": "isValid(datum.O)"}], "mark": "line", "encoding": {"y": {"field": "O", "type": "quantitative", "scale": {"domain": [-0.15, 3.24], "nice": false, "zero": false}, "axis": {"title": null, "labels": false, "values": [0,0.25,0.5,0.75,1,1.25,1.5,1.75,2,2.25,2.5,2.75,3], "tickSize": {"condition": {"test": "datum.value % 0.5 === 0", "value": -6}, "value": -3}}}, "color": {"datum": "CO₂ O", "scale": {"domain": ["COF C","COF N","COF H","Total","CO₂ C","CO₂ O"], "range": ["#1f1fa5","#1b8a1b","#e8282b","#111111","#12a0a0","#ff9a12"]}, "legend": {"title": null}}}},
        {"transform": [{"filter": "isValid(datum.T)"}], "mark": "line", "encoding": {"y": {"field": "T", "type": "quantitative", "scale": {"domain": [-0.15, 3.24], "nice": false, "zero": false}, "axis": {"title": null, "labels": false, "values": [0,0.25,0.5,0.75,1,1.25,1.5,1.75,2,2.25,2.5,2.75,3], "tickSize": {"condition": {"test": "datum.value % 0.5 === 0", "value": -6}, "value": -3}}}, "color": {"datum": "Total", "scale": {"domain": ["COF C","COF N","COF H","Total","CO₂ C","CO₂ O"], "range": ["#1f1fa5","#1b8a1b","#e8282b","#111111","#12a0a0","#ff9a12"]}, "legend": {"title": null}}}}
      ]
    }
  ]
}
